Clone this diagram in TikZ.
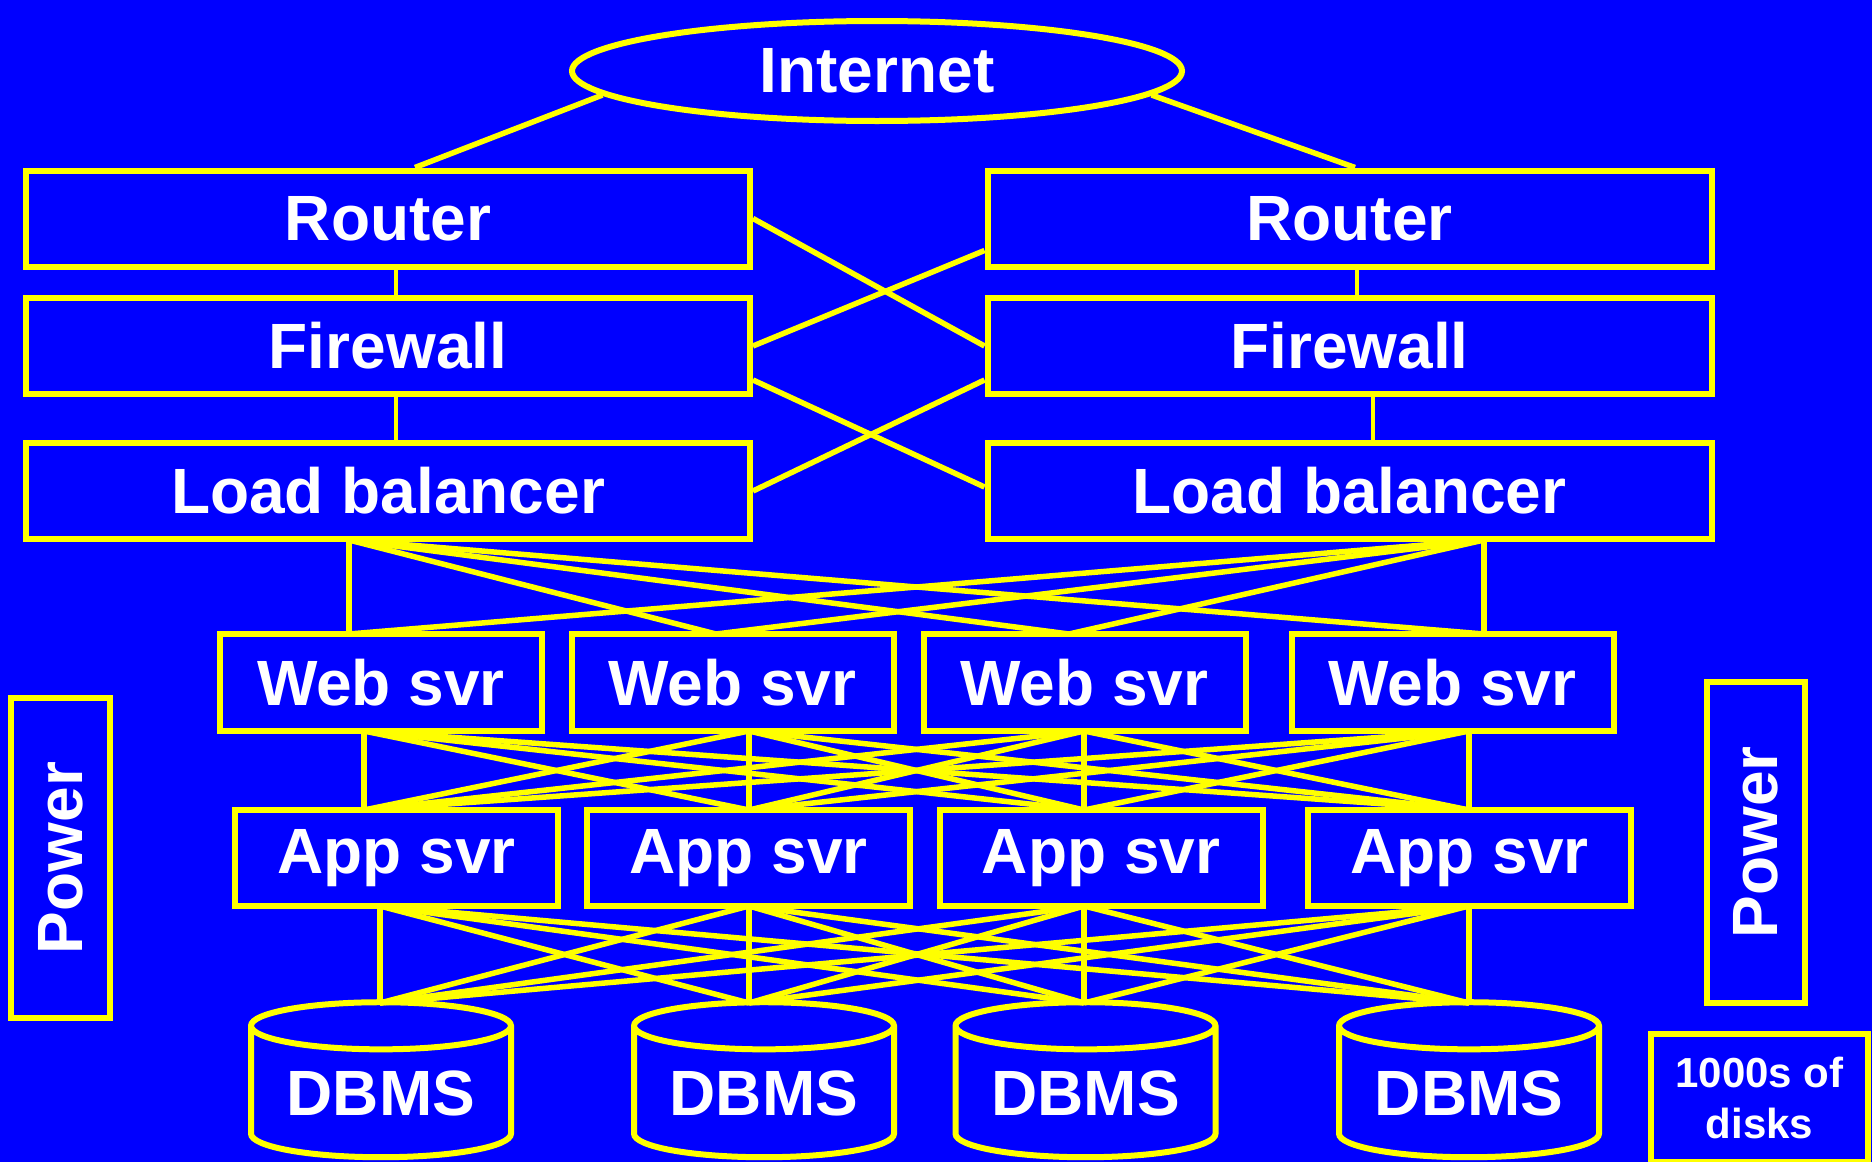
\documentclass[tikz,border=0pt]{standalone}
\usepackage{fontspec}
\setmainfont{Liberation Sans}
\usetikzlibrary{shapes.geometric}

\definecolor{bg}{RGB}{0,0,255}
\definecolor{wire}{RGB}{255,255,0}

\tikzset{
    box/.style={rectangle,draw=wire,line width=6pt,fill=bg,text=white,inner sep=0pt,
        font=\bfseries\fontsize{64}{70}\selectfont},
    link/.style={draw=wire,line width=5.5pt},
    stem/.style={draw=wire,line width=4.5pt},
}

\begin{document}
\begin{tikzpicture}[x=1pt,y=-1pt]
\fill[bg] (0,0) rectangle (1872,1162);
\useasboundingbox (0,0) rectangle (1872,1162);

%\tikzstyle{tier}=[box,minimum width=724pt]
\node[box,ellipse,minimum width=610pt,minimum height=100pt] (inet) at (877,71) {Internet};

\begin{scope}[every node/.style={box,minimum width=724pt,minimum height=96pt}]
    \node (rL) at (388,218.5) {Router};
    \node (rR) at (1349.5,218.5) {Router};
    \node (fL) at (388,346) {Firewall};
    \node (fR) at (1349.5,346) {Firewall};
    \node (lbL) at (388,491) {Load balancer};
    \node (lbR) at (1349.5,491) {Load balancer};
\end{scope}

\foreach \i/\x in {1/381,2/732.5,3/1084.5,4/1452.5}
    \node[box,minimum width=322pt,minimum height=97pt] (web\i) at (\x,682.5) {Web svr};
\foreach \i/\x in {1/396.5,2/748.5,3/1101,4/1469.5}
    \node[box,minimum width=323pt,minimum height=96pt] (app\i) at (\x,858) {App svr};
\foreach \i/\x in {1/381,2/764,3/1085.5,4/1469}
    \node[box,cylinder,shape border rotate=90,aspect=0.25,minimum width=260pt,minimum height=155pt] (db\i) at (\x,1093) {DBMS};

\node[box,rotate=90,minimum width=320pt,minimum height=99pt] (pwL) at (60.5,858) {Power};
\node[box,rotate=90,minimum width=321pt,minimum height=98pt] (pwR) at (1756,842.5) {Power};
\node[box,align=center,minimum width=217pt,minimum height=128pt,
      font=\bfseries\fontsize{42}{51}\selectfont] (disks) at (1759.5,1098) {1000s of\\disks};

% ports
\coordinate (lbLb) at (349,540);
\coordinate (lbRb) at (1484,540);
\foreach \i/\t/\b in {1/349/364,2/716/749,3/1069/1084,4/1484/1469} {
    \coordinate (web\i t) at (\t,634);
    \coordinate (web\i b) at (\b,731);
}
\foreach \i/\t/\b in {1/364/380,2/749/749,3/1084/1084,4/1469/1469} {
    \coordinate (app\i t) at (\t,810);
    \coordinate (app\i b) at (\b,906);
}
\foreach \i/\t in {1/380,2/749,3/1084,4/1469}
    \coordinate (db\i t) at (\t,1003);

% front end
\path[link] (inet.185) edge ([xshift=27pt]rL.north);
\path[link] (inet.-5) edge ([xshift=5.5pt]rR.north);
\path[stem] ([xshift=8pt]rL.south) edge ([xshift=8pt]fL.north);
\path[stem] ([xshift=7.5pt]rR.south) edge ([xshift=7.5pt]fR.north);
\path[stem] ([xshift=8pt]fL.south) edge ([xshift=8pt]lbL.north);
\path[stem] ([xshift=23.5pt]fR.south) edge ([xshift=23.5pt]lbR.north);
\path[link] (rL.east) edge (fR.west);
\path[link] ([yshift=-32pt]rR.west) edge (fL.east);
\path[link] ([yshift=-34pt]fL.east) edge ([yshift=4pt]lbR.west);
\path[link] ([yshift=-34pt]fR.west) edge (lbL.east);

% meshes
\foreach \j in {1,...,4} {
    \path[link] (lbLb) edge (web\j t);
    \path[link] (lbRb) edge (web\j t);
    \foreach \i in {1,...,4} {
        \path[link] (web\i b) edge (app\j t);
        \path[link] (app\i b) edge (db\j t);
    }
}
\end{tikzpicture}
\end{document}
